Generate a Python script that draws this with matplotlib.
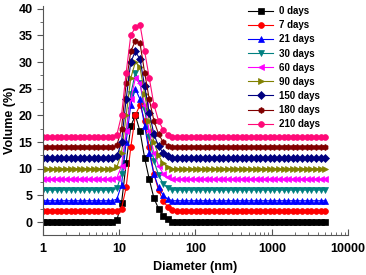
import numpy as np
import matplotlib
matplotlib.use("Agg")
import matplotlib.pyplot as plt
from matplotlib.ticker import LogLocator, MultipleLocator, NullFormatter

plt.rcParams['font.family'] = ['Liberation Sans', 'DejaVu Sans']
plt.rcParams['font.weight'] = 'bold'

# size bins (nm), log spaced from 1 to ~5000
diameter = np.logspace(0, 3.7, 62)
peak_start = 15  # index of first value in the peak profiles

labels = ["0 days", "7 days", "21 days", "30 days", "60 days",
          "90 days", "150 days", "180 days", "210 days"]
offsets = [0, 2, 4, 6, 8, 10, 12, 14, 16]
colors = ["#000000", "#ff0000", "#0000ff", "#008080", "#ff00ff",
          "#808000", "#000080", "#800000", "#ff0a78"]
markers = ["s", "o", "^", "v", "<", ">", "D", "h", "o"]

# volume (%) above each curve's baseline, bins 15..29
p0 = [0, 0.4, 3.5, 11, 18, 20, 17, 12, 8, 4.5, 2.5, 1.2, 0.5, 0.1, 0]
p7 = [0, 0, 0.5, 4.5, 12, 18, 20, 17, 12, 7, 4, 2, 0.8, 0.2, 0]
p21 = [0, 0.3, 3, 11, 18, 21, 19, 14, 9, 5, 2.5, 1, 0.3, 0, 0]
p30 = [0, 0.3, 3, 11, 18, 22, 20, 15, 10, 5.5, 2.8, 1.2, 0.4, 0, 0]
p60 = [0, 0.3, 2.5, 9, 15, 19, 18, 14, 9, 5, 2.5, 1.1, 0.4, 0, 0]
p90 = [0, 0.3, 3, 10, 17, 20, 19, 14, 9, 5, 2.5, 1, 0.3, 0, 0]
p150 = [0, 0.3, 3, 11, 18, 20, 18.5, 13.5, 8.5, 4.5, 2.2, 1, 0.3, 0, 0]
p180 = [0, 0.4, 3.5, 12, 18, 20, 19.5, 14, 9, 5, 2.5, 1, 0.3, 0, 0]
p210 = [0, 0.4, 4, 12, 19, 20.5, 21, 16, 11, 6, 3, 1.3, 0.4, 0, 0]
profiles = [p0, p7, p21, p30, p60, p90, p150, p180, p210]

fig = plt.figure(figsize=(3.66, 2.75), dpi=100)
ax = fig.add_axes([0.117, 0.145, 0.834, 0.833])

for lab, off, col, mk, prof in zip(labels, offsets, colors, markers, profiles):
    vol = np.full(len(diameter), float(off))
    vol[peak_start:peak_start + len(prof)] += prof
    ax.plot(diameter, vol, color=col, marker=mk, markersize=4.2,
            linewidth=0.8, markeredgewidth=0.5, label=lab)

ax.set_xscale("log")
ax.set_xlim(1, 10000)
ax.set_ylim(-2.45, 40.5)
ax.yaxis.set_major_locator(MultipleLocator(5))
ax.yaxis.set_minor_locator(MultipleLocator(2.5))
ax.xaxis.set_major_locator(LogLocator(base=10))
ax.xaxis.set_minor_locator(LogLocator(base=10, subs=np.arange(2, 10)))
ax.xaxis.set_minor_formatter(NullFormatter())
ax.set_xticks([1, 10, 100, 1000, 10000])
ax.set_xticklabels(["1", "10", "100", "1000", "10000"])

for s in ["top", "right"]:
    ax.spines[s].set_visible(False)
for s in ["left", "bottom"]:
    ax.spines[s].set_color("#555555")
    ax.spines[s].set_linewidth(0.8)

ax.tick_params(axis="both", which="major", labelsize=9, length=4,
               color="#555555", width=0.8)
ax.tick_params(axis="both", which="minor", length=2, color="#555555", width=0.6)
ax.tick_params(axis="x", which="both", direction="in", pad=6)
ax.tick_params(axis="y", which="both", direction="out")

ax.set_xlabel("Diameter (nm)", fontsize=9, fontweight="bold", labelpad=4)
ax.set_ylabel("Volume (%)", fontsize=9, fontweight="bold", labelpad=2)

ax.legend(loc="upper right", bbox_to_anchor=(0.925, 1.02), frameon=False,
          fontsize=7, handlelength=2.6, labelspacing=0.42,
          handletextpad=0.6, borderaxespad=0.1)

fig.savefig("out.png", dpi=100)
